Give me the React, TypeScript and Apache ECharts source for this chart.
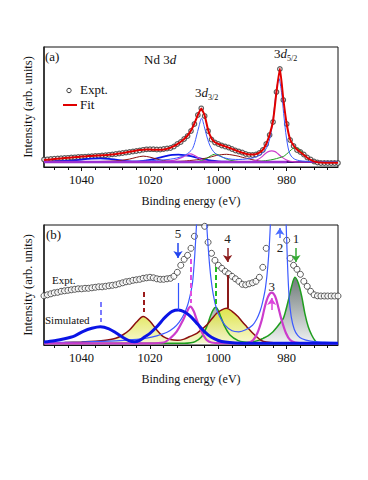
import React, { useEffect, useRef } from "react";
import * as echarts from "echarts";

const FONT = '"Liberation Serif", "Times New Roman", Times, serif';

// ---------- axis ----------
const energyMin = 965;
const energyMax = 1051;
const majorTickValues = [1040, 1020, 1000, 980];
const minorTickValues = [1048, 1044, 1036, 1032, 1028, 1024, 1016, 1012, 1008, 1004, 996, 992, 988, 984, 976, 972, 968];

// ---------- experimental spectrum, sampled every 1 eV from 1051 eV down to 965 eV ----------
const exptStartEnergy = 1051;
const exptStepEnergy = -1;

// panel (a): intensity (arb.)
const exptA = [
  2.5, 2.7, 3.0, 3.3, 3.6, 3.8, 4.0, 4.2, 4.5, 4.7,
  5.0, 5.2, 5.4, 5.6, 5.8, 6.0, 6.2, 6.5, 6.8, 7.2,
  7.6, 8.0, 8.5, 9.0, 9.5, 10.0, 10.5, 11.0, 11.5, 12.2,
  12.7, 12.8, 12.8, 12.5, 12.5, 13.0, 13.5, 14.0, 15.5, 18.0,
  20.0, 23.0, 26.0, 31.0, 38.0, 47.0, 53.7, 46.0, 31.0, 22.5,
  19.5, 18.0, 16.5, 15.5, 14.5, 13.0, 11.5, 10.5, 9.5, 8.0,
  7.2, 7.0, 7.5, 9.0, 12.0, 18.0, 27.0, 40.0, 70.0, 93.0,
  62.0, 38.0, 22.0, 16.0, 12.0, 10.0, 7.5, 4.5, 2.5, 0.5,
  -0.5, -1, -1, -1, -1, -1, -1,
];

const fitA = [
  2.0, 2.3, 2.6, 3.0, 3.3, 3.6, 3.9, 4.2, 4.5, 4.8,
  5.1, 5.4, 5.6, 5.9, 6.1, 6.3, 6.5, 6.7, 6.9, 7.2,
  7.6, 8.0, 8.5, 9.0, 9.6, 10.2, 10.8, 11.4, 11.9, 12.3,
  12.5, 12.5, 12.3, 12.2, 12.2, 12.6, 13.3, 14.3, 15.8, 17.8,
  20.2, 23.0, 26.5, 31.5, 38.5, 47.0, 53.5, 46.5, 32.0, 23.5,
  19.8, 18.0, 16.8, 15.6, 14.4, 13.1, 11.8, 10.5, 9.3, 8.3,
  7.6, 7.4, 7.9, 9.3, 12.2, 18.0, 27.5, 41.0, 70.0, 93.5,
  63.0, 38.0, 22.5, 16.5, 12.5, 9.8, 7.0, 4.3, 2.2, 0.6,
  -0.3, -0.6, -0.7, -0.7, -0.7, -0.7, -0.7,
];

// panel (b): experimental spectrum, offset and magnified (same units as the simulated components)
const exptB = [
  47.5, 48.5, 49.5, 50.5, 51, 52, 52.5, 53, 53.5, 54,
  54.5, 54.5, 55, 55, 55.5, 56, 56.5, 56.5, 57, 57.5,
  58, 58.5, 59.5, 60.5, 61.5, 62, 63, 63.5, 64, 65,
  65.5, 66, 65.5, 64.5, 64, 64, 64.5, 65, 67, 71,
  78, 84, 88, 95, 107, 119, 130, 117, 101, 90,
  83, 78, 75, 72, 69.5, 67, 64.5, 62, 59, 58.5,
  59.5, 60.5, 62, 66, 76, 95, 119, 160, 230, 260,
  180, 103, 85, 78, 74, 69, 62, 57, 52, 48.5,
  47.5, 47.3, 47.3, 47.3, 47.3, 47.3, 47.3,
];

// background level of the fit in panel (a)
const backgroundA = [[1051, 0], [980, 0]];

// ---------- simulated / fitted components [energy eV, intensity] ----------
const compThickBlue = [
  [1051, 1.2], [1048, 2.5], [1045, 4.5], [1042, 7.5], [1039.5, 12], [1037, 15], [1034.5, 16.5],
  [1032, 14.5], [1030, 10.5], [1028, 6], [1026, 2.4], [1024.5, 1.6], [1023, 3], [1021.5, 6.5],
  [1020, 10], [1018, 16.5], [1016, 24.5], [1015, 28], [1013.5, 32], [1011.7, 33.3], [1010, 31.5],
  [1008, 26.5], [1006, 19], [1004, 11.5], [1002, 6], [1000, 2.8], [998, 1.2], [995, 0.4],
  [990, 0.1], [985, 0], [965, 0],
];

const compBrown = [
  [1051, 0.3], [1045, 0.8], [1040, 1.3], [1036, 2], [1033, 3], [1030, 5], [1028, 8.3], [1026, 13.3],
  [1024, 21], [1022, 26.7], [1020, 22], [1018, 13.3], [1016.1, 6.6], [1014, 3.8], [1012, 3],
  [1010, 4.2], [1008.5, 6.5], [1006.3, 10], [1004.5, 15], [1003.4, 18.3], [1002, 24], [1000.5, 30],
  [999, 33.5], [997.6, 35], [996, 32], [994.2, 26.6], [993, 21.5], [991.7, 16.6], [990.2, 11],
  [988.8, 6.6], [987.5, 3], [986, 1.2], [983, 0.3], [975, 0], [965, 0],
];

const compMagenta = [
  [1051, 0], [1020, 0], [1016, 0.8], [1014.1, 5], [1012.2, 11.6], [1010.3, 23.3], [1009.2, 31.5],
  [1008.2, 36.6], [1007.2, 32], [1006.3, 23.3], [1004.9, 11.6], [1003.4, 3.3], [1002, 0.8],
  [999, 0.1], [993, 0], [991, 0.8], [989.8, 3.3], [988.6, 10], [987.3, 23.3], [986.4, 36.6],
  [985.4, 47], [984.4, 50.6], [983.4, 47], [982.5, 36.6], [981.5, 23.3], [980.2, 10], [979, 3.3],
  [977.5, 0.8], [975, 0], [965, 0],
];

const compGreen = [
  [1051, 0], [1010, 0], [1008, 0.5], [1006.8, 1.6], [1004.9, 6.6], [1003.4, 16.6], [1002.4, 26.6],
  [1001.6, 33], [1000.8, 36], [1000, 33], [999.5, 28.3], [998.1, 16.6], [996.6, 8.3], [994.2, 2.6],
  [992.5, 1.2], [991, 1], [989.8, 1.6], [988, 3.2], [986.9, 5], [985.5, 7.5], [984, 11.6], [983, 15.5],
  [982, 20], [981, 25], [980.5, 30], [979.5, 43.3], [978.6, 56.6], [977.6, 66], [976.6, 60],
  [975.6, 46.6], [974.7, 30], [973.7, 16.6], [972.7, 8.3], [971.7, 2.6], [971, 0.5], [970, 0], [965, 0],
];

const compThinBlue = [
  [1051, 0.6], [1040, 1.3], [1030, 2.4], [1025, 3.6], [1021, 5.2], [1018, 7.5], [1015, 11], [1013, 15.5],
  [1011.5, 21], [1010.2, 28], [1009, 38], [1008, 52], [1007.5, 62], [1006.9, 88], [1006.4, 118],
  [1005.7, 160], [1004.9, 199], [1004.1, 160], [1003.4, 118], [1002.8, 88], [1002.2, 66], [1001.5, 49],
  [1000.5, 34], [999.5, 26], [998, 18], [996, 12.5], [994, 11.5], [992, 13.5], [990, 18], [988.8, 24],
  [987.8, 32], [987, 42], [986.2, 56], [985.5, 78], [984.9, 110], [984.3, 160], [983.7, 235],
  [983.1, 315], [982.3, 380], [981.5, 315], [980.9, 220], [980.3, 135], [979.8, 82], [979.3, 46],
  [978.7, 27], [977.8, 14], [976.8, 8], [975.5, 4.5], [973, 2.2], [969, 1.2], [965, 0.8],
];

// ---------- peak assignments in panel (b) ----------
const peakLabels = ["1", "2", "3", "4", "5"];
const peakEnergies = [977.3, 982.0, 984.4, 997.3, 1011.8];
const componentCentres = [1034.3, 1021.7, 1008.1, 1000.7];

const C = {
  thickBlue: "#0a14e6",
  thinBlue: "#3c5aff",
  brown: "#8b0f0f",
  magenta: "#cc3ccc",
  green: "#1f9e1f",
  red: "#e00000",
  expt: "#333333",
  purple: "#9b30d0",
};

const toPairs = (vals: number[]) => vals.map((v, i) => [exptStartEnergy + i * exptStepEnergy, v]);

function buildOption() {
  const axisColor = "#111";
  const mainX = (gridIndex: number) => ({
    type: "value",
    gridIndex,
    min: energyMin,
    max: energyMax,
    inverse: true,
    position: "bottom",
    name: "Binding energy (eV)",
    nameLocation: "middle",
    nameGap: 28,
    nameTextStyle: { fontFamily: FONT, fontSize: 12, color: axisColor },
    axisLine: { show: true, onZero: false, lineStyle: { color: axisColor, width: 1 } },
    axisTick: { show: true, inside: false, length: 4, customValues: majorTickValues, lineStyle: { color: axisColor } },
    axisLabel: {
      show: true,
      fontFamily: FONT,
      fontSize: 12.5,
      color: axisColor,
      margin: 6,
      customValues: majorTickValues,
      formatter: (v: number) => String(v),
    },
    splitLine: { show: false },
  });
  const minorX = (gridIndex: number) => ({
    type: "value",
    gridIndex,
    min: energyMin,
    max: energyMax,
    inverse: true,
    position: "bottom",
    axisLine: { show: false, onZero: false },
    axisTick: { show: true, inside: false, length: 3, customValues: minorTickValues, lineStyle: { color: axisColor } },
    axisLabel: { show: false },
    splitLine: { show: false },
  });
  const mainY = (gridIndex: number, min: number, max: number) => ({
    type: "value",
    gridIndex,
    min,
    max,
    name: "Intensity (arb. units)",
    nameLocation: "middle",
    nameGap: 10,
    nameTextStyle: { fontFamily: FONT, fontSize: 12.5, color: axisColor },
    axisLine: { show: true, onZero: false, lineStyle: { color: "#222", width: 1.5 } },
    axisTick: { show: false },
    axisLabel: { show: false },
    splitLine: { show: false },
  });

  const line = (data: any, xi: number, yi: number, color: string, width: number, extra: any = {}) => ({
    type: "line",
    data,
    xAxisIndex: xi,
    yAxisIndex: yi,
    showSymbol: false,
    symbol: "none",
    smooth: 0.3,
    clip: true,
    silent: true,
    lineStyle: { color, width },
    itemStyle: { color },
    ...extra,
  });

  const vmark = (E: number, y1: number, y2: number, color: string, width: number, type: any) => [
    { coord: [E, y1], symbol: "none", lineStyle: { color, width, type }, label: { show: false } },
    { coord: [E, y2], symbol: "none" },
  ];
  const arrow = (E: number, y1: number, y2: number, color: string, text: string, pos: string, dist: number) => [
    {
      coord: [E, y1],
      symbol: "none",
      lineStyle: { color, width: 1.5, type: "solid" },
      label: { show: true, formatter: text, position: pos, distance: dist, color: "#222", fontSize: 13, fontFamily: FONT },
    },
    { coord: [E, y2], symbol: "arrow", symbolSize: 7 },
  ];

  const markData = [
    vmark(componentCentres[0], 41.3, 21.3, "#7b7bff", 2, [5, 3]),
    vmark(componentCentres[1], 51.3, 31.3, "#9b1b1b", 2, [5, 3]),
    vmark(componentCentres[2], 84.3, 40.3, "#e050e0", 2, [5, 3]),
    vmark(componentCentres[3], 76.3, 36.3, "#22bb22", 2, [5, 3]),
    vmark(peakEnergies[4], 60.3, 33.3, "#3355ff", 1.2, "solid"),
    vmark(peakEnergies[3], 68.3, 35.3, "#8b1a1a", 2, "solid"),
    arrow(peakEnergies[0], 95.3, 81.3, "#33aa33", peakLabels[0], "start", 3),
    arrow(peakEnergies[1], 105.3, 115.3, "#4a6cff", peakLabels[1], "start", 3),
    arrow(peakEnergies[2], 33.3, 45.3, "#dd44dd", peakLabels[2], "end", 5),
    arrow(peakEnergies[3], 95.3, 81.3, "#8b1a1a", peakLabels[3], "start", 3),
    arrow(peakEnergies[4], 100.3, 85.3, "#2244ee", peakLabels[4], "start", 3),
  ];

  const txt = (text: string, left: number, top: number, size: number, extra: any = {}) => ({
    type: "text",
    left,
    top,
    silent: true,
    style: { text, fontFamily: FONT, fontSize: size, fill: "#111", ...extra },
  });
  const richSub = (main: string, sub: string) => ({
    text: `{m|${main}}{i|d}{s|${sub}}`,
    rich: {
      m: { fontFamily: FONT, fontSize: 13, lineHeight: 18, fill: "#111", verticalAlign: "middle" },
      i: { fontFamily: FONT, fontSize: 13, lineHeight: 18, fontStyle: "italic", fill: "#111", verticalAlign: "middle" },
      s: { fontFamily: FONT, fontSize: 8, lineHeight: 8, fill: "#111", verticalAlign: "bottom" },
    },
  });

  return {
    animation: false,
    backgroundColor: "#fff",
    grid: [
      { left: 44, top: 47, width: 294, height: 120, show: true, borderColor: "#111", borderWidth: 1, backgroundColor: "transparent" },
      { left: 44, top: 225, width: 294, height: 120, show: true, borderColor: "#111", borderWidth: 1, backgroundColor: "transparent" },
    ],
    xAxis: [mainX(0), minorX(0), mainX(1), minorX(1)],
    yAxis: [
      mainY(0, -5, 115),
      { type: "value", gridIndex: 0, min: -22.7, max: 522.7, show: false },
      mainY(1, -1.7, 118.3),
    ],
    series: [
      // ----- panel (a) -----
      line(compThickBlue, 0, 1, C.thickBlue, 1.8),
      line(compBrown, 0, 1, C.brown, 1),
      line(compMagenta, 0, 1, C.magenta, 1.2),
      line(compGreen, 0, 1, C.green, 1),
      line(compThinBlue, 0, 1, C.thinBlue, 1),
      line(backgroundA, 0, 0, C.purple, 2.5, { smooth: false }),
      {
        type: "scatter",
        name: "Expt.",
        data: toPairs(exptA),
        xAxisIndex: 0,
        yAxisIndex: 0,
        symbol: "circle",
        symbolSize: 4.5,
        silent: true,
        itemStyle: { color: "#fff", borderColor: C.expt, borderWidth: 1.2 },
      },
      line(toPairs(fitA), 0, 0, C.red, 2, { name: "Fit", smooth: 0.15 }),
      // ----- panel (b) -----
      line(compGreen, 2, 2, C.green, 1.5, {
        areaStyle: {
          opacity: 0.9,
          color: new echarts.graphic.LinearGradient(0, 0, 0, 1, [
            { offset: 0, color: "#5e6a6a" },
            { offset: 1, color: "#eef1f1" },
          ]),
        },
      }),
      line(compBrown, 2, 2, C.brown, 1.5, {
        areaStyle: {
          opacity: 0.85,
          color: new echarts.graphic.LinearGradient(0, 0, 0, 1, [
            { offset: 0, color: "#d9df2c" },
            { offset: 1, color: "#f6f7c8" },
          ]),
        },
      }),
      line(compThinBlue, 2, 2, C.thinBlue, 1.2),
      line(compMagenta, 2, 2, C.magenta, 2.2),
      line(compThickBlue, 2, 2, C.thickBlue, 3, {
        markLine: { silent: true, animation: false, symbol: ["none", "none"], data: markData },
      }),
      {
        type: "scatter",
        data: toPairs(exptB),
        xAxisIndex: 2,
        yAxisIndex: 2,
        symbol: "circle",
        symbolSize: 6,
        silent: true,
        clip: true,
        itemStyle: { color: "#fff", borderColor: C.expt, borderWidth: 1 },
      },
    ],
    graphic: [
      txt("(a)", 45, 50, 13),
      {
        type: "text",
        left: 144,
        top: 53,
        silent: true,
        style: {
          text: "{m|Nd 3}{i|d}",
          rich: {
            m: { fontFamily: FONT, fontSize: 13, fill: "#111" },
            i: { fontFamily: FONT, fontSize: 13, fontStyle: "italic", fill: "#111" },
          },
        },
      },
      { type: "circle", silent: true, shape: { cx: 69, cy: 90.5, r: 2.2 }, style: { fill: "#fff", stroke: C.expt, lineWidth: 1 } },
      txt("Expt.", 80, 82.5, 13),
      { type: "line", silent: true, shape: { x1: 63, y1: 105, x2: 77, y2: 105 }, style: { stroke: C.red, lineWidth: 2 } },
      txt("Fit", 80, 97.5, 13),
      { type: "text", left: 195, top: 86, silent: true, style: richSub("3", "3/2") },
      { type: "text", left: 274, top: 46.5, silent: true, style: richSub("3", "5/2") },
      txt("(b)", 46, 227.5, 13),
      txt("Expt.", 52, 274.5, 11),
      txt("Simulated", 45, 314.5, 11),
    ],
  };
}

export default function App() {
  const ref = useRef<HTMLDivElement>(null);
  useEffect(() => {
    if (!ref.current) return;
    const chart = echarts.init(ref.current, null, { renderer: "svg" });
    chart.setOption(buildOption() as any);
    return () => chart.dispose();
  }, []);
  return (
    <div
      ref={ref}
      style={{ position: "fixed", left: 0, top: 0, width: 368, height: 480, background: "#fff" }}
    />
  );
}
